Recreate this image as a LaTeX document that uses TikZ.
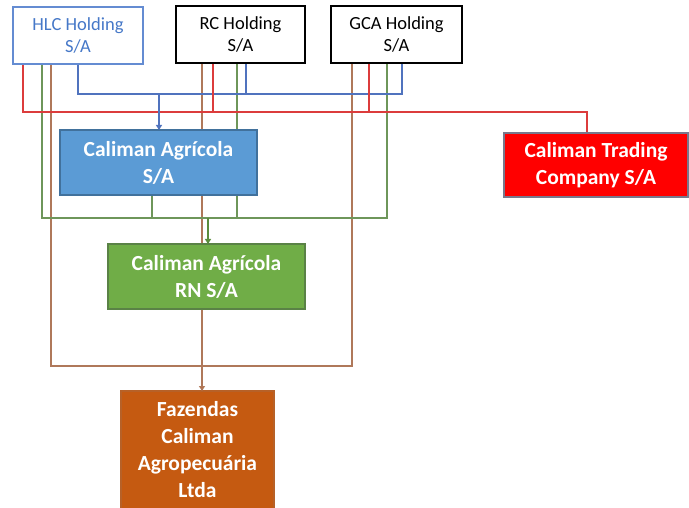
\documentclass[tikz,border=0pt]{standalone}
\usepackage{fontspec}
\setmainfont{Carlito}
\usetikzlibrary{arrows.meta,backgrounds}
\definecolor{bluel}{RGB}{80,115,190}
\definecolor{hlcb}{RGB}{100,140,210}
\definecolor{hlct}{RGB}{70,120,200}
\definecolor{greenl}{RGB}{110,150,90}
\definecolor{greena}{RGB}{90,140,60}
\definecolor{brownl}{RGB}{175,120,90}
\definecolor{browna}{RGB}{197,90,17}
\definecolor{redl}{RGB}{220,60,60}
\definecolor{cafill}{RGB}{91,155,213}
\definecolor{cadraw}{RGB}{65,113,156}
\definecolor{rnfill}{RGB}{112,173,71}
\definecolor{rndraw}{RGB}{90,130,70}
\definecolor{fazfill}{RGB}{197,90,17}
\definecolor{trfill}{RGB}{255,0,0}
\definecolor{trdraw}{RGB}{120,120,140}
\tikzset{
  box/.style={draw, line width=1.2pt, inner sep=0pt, outer sep=0pt, align=center},
  hold/.style={box, fill=white, font=\fontsize{18.5}{22}\selectfont},
  comp/.style={box, text=white, font=\fontsize{21.5}{27}\selectfont\bfseries},
  conn/.style={line width=1.3pt},
  tip/.style={-{Triangle[width=6pt,length=5pt]}},
}
\begin{document}
\begin{tikzpicture}[x=1pt,y=-1pt]
\useasboundingbox (0,0) rectangle (689,508);
% boxes
\node[hold, draw=hlcb, text=hlct, minimum width=130, minimum height=57] (hlc) at (78,35.5) {HLC Holding\\S/A};
\node[hold, draw=black, minimum width=129, minimum height=57] (rc) at (240.5,34.5) {RC Holding\\S/A};
\node[hold, draw=black, minimum width=131, minimum height=57] (gca) at (396.5,34.5) {GCA Holding\\S/A};
\node[comp, draw=cadraw, fill=cafill, minimum width=197, minimum height=65] (ca) at (158.5,162.5) {Caliman Agrícola\\S/A};
\node[comp, draw=rndraw, fill=rnfill, minimum width=197, minimum height=65] (rn) at (206.5,276.5) {Caliman Agrícola\\RN S/A};
\node[comp, draw=fazfill!80!gray, fill=fazfill, minimum width=153, minimum height=118] (faz) at (197.5,450) {Fazendas\\Caliman\\Agropecuária\\Ltda};
\node[comp, draw=trdraw, fill=trfill, minimum width=184, minimum height=64] (trade) at (596,165) {Caliman Trading\\Company S/A};
% junction coordinates
\coordinate (rA) at (23,112);
\coordinate (rB) at (213,112);
\coordinate (rC) at (369,112);
\coordinate (rT) at (587,112);
\coordinate (bA) at (78,94);
\coordinate (bB) at (246,94);
\coordinate (bC) at (402,94);
\coordinate (bM) at (159,94);
\coordinate (gA) at (42,218);
\coordinate (gB) at (237,218);
\coordinate (gC) at (387,218);
\coordinate (gD) at (152,218);
\coordinate (gM) at (208,218);
\coordinate (oA) at (51,366);
\coordinate (oB) at (202,366);
\coordinate (oC) at (352,366);
\begin{scope}[on background layer]
% brown
\draw[conn, brownl] (hlc.south -| oA) -- (oA) -- (oC) -- (gca.south -| oC);
\draw[conn, brownl] (rc.south -| oB) -- (oB);
% green
\draw[conn, greenl] (hlc.south -| gA) -- (gA) -- (gC) -- (gca.south -| gC);
\draw[conn, greenl] (rc.south -| gB) -- (gB);
\draw[conn, greenl] (ca.south -| gD) -- (gD);
% blue
\draw[conn, bluel] (hlc.south -| bA) -- (bA) -- (bC) -- (gca.south -| bC);
\draw[conn, bluel] (rc.south -| bB) -- (bB);
% red
\draw[conn, redl] (hlc.south -| rA) -- (rA) -- (rT) -- (trade.north -| rT);
\draw[conn, redl] (rc.south -| rB) -- (rB);
\draw[conn, redl] (gca.south -| rC) -- (rC);
\end{scope}
% arrows
\draw[conn, bluel, tip] (bM) -- (ca.north -| bM);
\draw[conn, greena, tip] (gM) -- (rn.north -| gM);
\draw[conn, brownl, -{Triangle[width=6pt,length=5pt,fill=browna]}] (oB) -- (faz.north -| oB);
\end{tikzpicture}
\end{document}
